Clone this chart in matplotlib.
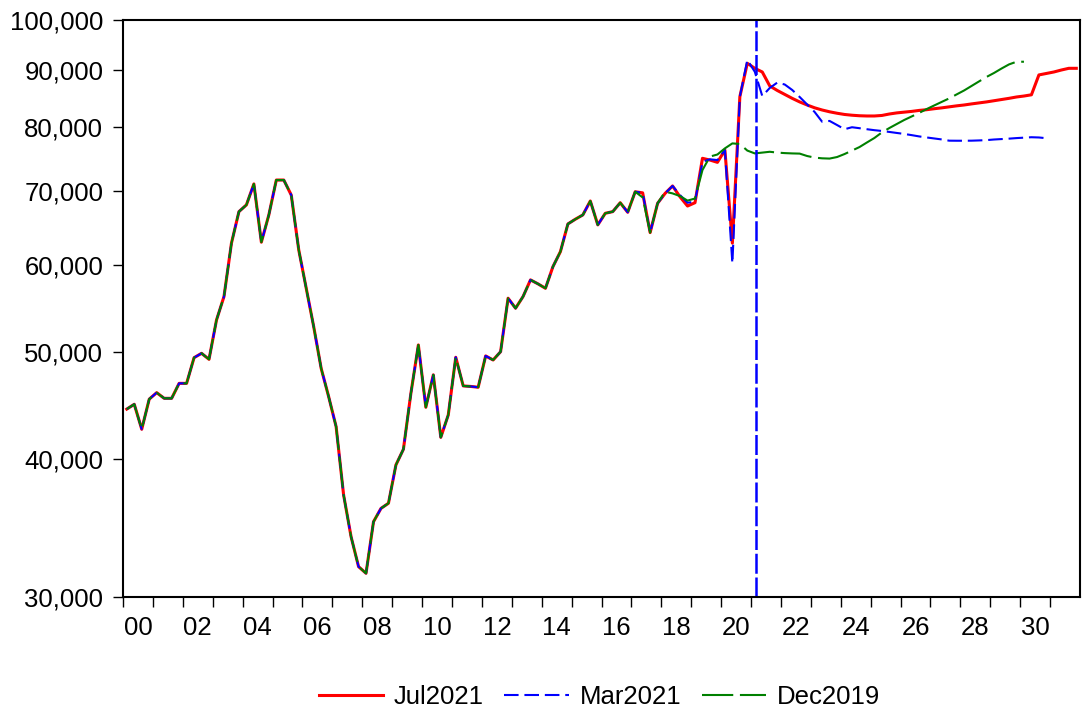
import numpy as np
import matplotlib.pyplot as plt
from matplotlib.ticker import FixedLocator, NullLocator, FuncFormatter

plt.rcParams['font.family'] = ['Liberation Sans', 'DejaVu Sans']

# quarterly data, 2000Q1 onwards (common history 2000Q1 - 2017Q1)
hist = [44400, 44850, 42570, 45330, 45950, 45410, 45410, 46850, 46850, 49430,
        49880, 49260, 53470, 56150, 62770, 67040, 67990, 71030, 62900, 66580,
        71610, 71610, 69400, 61900, 57130, 52740, 48340, 45570, 42800, 37120,
        34020, 31960, 31520, 35100, 36090, 36480, 39520, 40830, 45880, 50760,
        44570, 47690, 41860, 43860, 49470, 46600, 46550, 46470, 49610, 49190,
        50050, 55960, 54800, 56150, 58140, 57660, 57130, 59770, 61670, 65340,
        65990, 66580, 68550, 65210, 66810, 67040, 68300, 66950, 69880]

jul2021_tail = [69720, 64170, 68220, 69640, 70730, 69140, 67830, 68300, 74930, 74660,
                74300, 76230, 62770, 85210, 91370,
                90410, 89720, 87150, 86330, 85620, 84920, 84290, 83750, 83260, 82880,
                82570, 82320, 82110, 81980, 81890, 81850, 81850, 81940, 82190, 82380,
                82510, 82640, 82810, 82930, 83100, 83250, 83430, 83600, 83750, 83940,
                84110, 84290, 84500, 84730, 84920, 85160, 85330, 85550, 89170, 89440,
                89720, 90090, 90410, 90410]

mar2021_tail = [69720, 64170, 68220, 69640, 70730, 69400, 68300, 68450, 74390, 74770,
                74660, 76230, 60190, 85210, 92000,
                89760, 85330, 86780, 87750, 87410, 86420, 85160, 83840, 82540, 80880,
                81010, 80320, 79620, 79950, 79790, 79620, 79460, 79330, 79170, 79000,
                78840, 78640, 78430, 78260, 78100, 77940, 77740, 77730, 77730, 77740,
                77780, 77830, 77930, 78000, 78070, 78160, 78230, 78300, 78260, 78140]

dec2019_tail = [69060, 64170, 68220, 69880, 69640, 69250, 68600, 68900, 73120, 75200,
                75530, 76500, 77300, 77200, 76150,
                75700, 75830, 75960, 75830, 75750, 75700, 75670, 75290, 75040, 74930,
                74890, 75130, 75600, 76150, 76710, 77450, 78180, 79090, 79820, 80500,
                81180, 81780, 82390, 83050, 83670, 84290, 84910, 85620, 86330, 87150,
                87980, 88800, 89540, 90370, 91150, 91660, 91660]

forecast_start = 2021.15
y_ticks = [30000, 40000, 50000, 60000, 70000, 80000, 90000, 100000]
year_labels = ['00', '02', '04', '06', '08', '10', '12', '14', '16',
               '18', '20', '22', '24', '26', '28', '30']


def qx(vals):
    q = np.arange(len(vals))
    return 2000 + (q + 0.5) / 4


jul = hist + jul2021_tail
mar = hist + mar2021_tail
dec = hist + dec2019_tail

fig = plt.figure(figsize=(10.86, 7.17), dpi=100)
ax = fig.add_axes([0.1133, 0.1674, 0.8812, 0.8047])

ax.plot(qx(jul), jul, color='#ff0000', lw=2.2, label='Jul2021')
ax.plot(qx(mar), mar, color='#0000ff', lw=1.5, dashes=(7, 2.8), label='Mar2021')
ax.plot(qx(dec), dec, color='#008000', lw=1.5, dashes=(15, 3.2), label='Dec2019')
ax.axvline(forecast_start, color='#0000ff', lw=1.8, dashes=(8, 1.5))

ax.set_yscale('log')
ax.set_ylim(30000, 100000)
ax.yaxis.set_major_locator(FixedLocator(y_ticks))
ax.yaxis.set_minor_locator(NullLocator())
ax.yaxis.set_major_formatter(FuncFormatter(lambda v, p: f'{v:,.0f}'))

ax.set_xlim(2000, 2032)
ax.set_xticks(np.arange(2000, 2032))
ax.set_xticklabels([])
ax.set_xticks(np.arange(2000.5, 2031, 2), minor=True)
ax.set_xticklabels(year_labels, minor=True)
ax.tick_params(axis='x', which='major', length=7.2, width=1, direction='out')
ax.tick_params(axis='x', which='minor', length=0, pad=14, labelsize=18.5)
ax.tick_params(axis='y', length=7.2, width=1, direction='out', labelsize=18.5, pad=7)

for s in ax.spines.values():
    s.set_linewidth(1.5)

fig.legend(loc='center', bbox_to_anchor=(0.552, 0.028), ncol=3, frameon=False,
           fontsize=18.5, handlelength=2.5, columnspacing=0.8, handletextpad=0.43)

fig.savefig('out.png', dpi=100)
